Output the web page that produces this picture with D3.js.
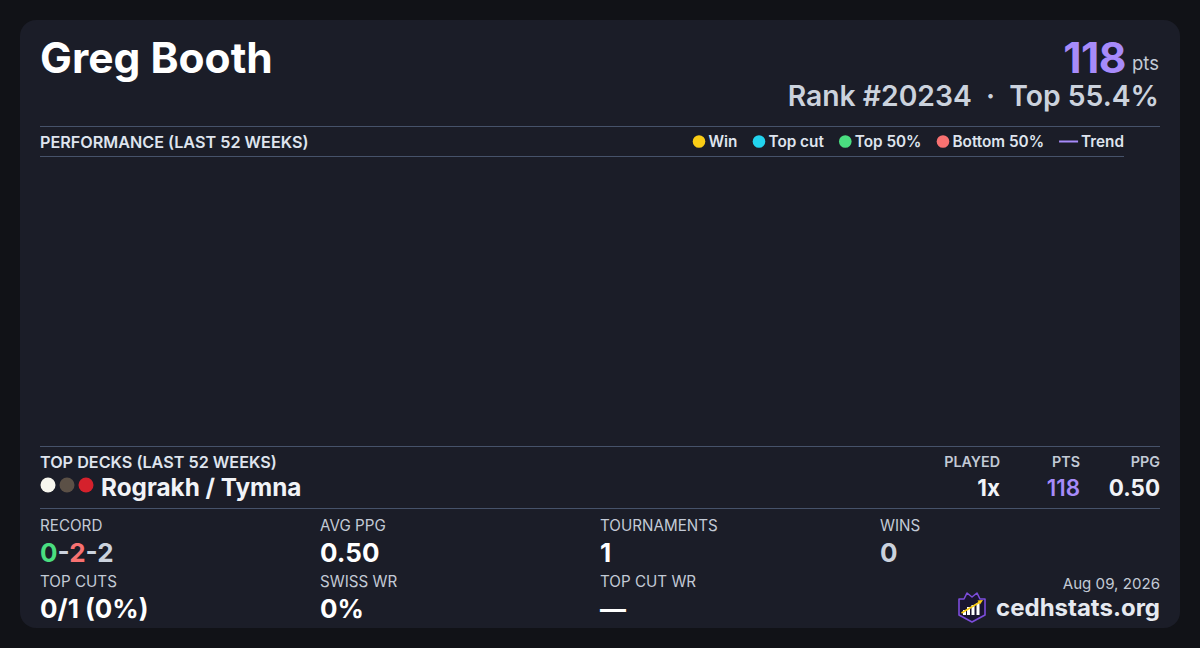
<!DOCTYPE html>
<html>
<head>
<meta charset="utf-8">
<script src="https://cdn.jsdelivr.net/npm/d3@7"></script>
<style>
  html, body { margin: 0; padding: 0; background: #111217; }
  svg { display: block; font-family: Inter, "Noto Sans", sans-serif; }
</style>
</head>
<body>
<svg id="card" width="1200" height="648"></svg>
<script>
// player header
var playerName = "Greg Booth";
var points = 118;
var rankLabel = "Rank #20234";
var topLabel = "Top 55.4%";

// performance chart (no events in the last 52 weeks)
var weekIndex = [];
var weekPoints = [];
var weekResult = [];
var legendLabels = ["Win", "Top cut", "Top 50%", "Bottom 50%", "Trend"];
var legendColors = ["#facc15", "#22d3ee", "#4ade80", "#f87171", "#a78bfa"];

// top decks
var deckNames = ["Rograkh / Tymna"];
var deckColors = [["#f7f6ee", "#5b5046", "#d5212c"]];
var deckPlayed = ["1x"];
var deckPts = [118];
var deckPpg = ["0.50"];

// stat grid
var statLabels = ["RECORD", "AVG PPG", "TOURNAMENTS", "WINS", "TOP CUTS", "SWISS WR", "TOP CUT WR"];
var statValues = [null, "0.50", "1", "0", "0/1 (0%)", "0%", "\u2014"];
var recordParts = ["0", "-", "2", "-", "2"];
var recordColors = ["#4ade80", "#cbd2dd", "#f87171", "#cbd2dd", "#cbd2dd"];
var dateLabel = "Aug 09, 2026";
var siteLabel = "cedhstats.org";

var svg = d3.select("#card");
var rule = "#46526a";

svg.append("rect")
  .attr("x", 20).attr("y", 20).attr("width", 1160).attr("height", 608)
  .attr("rx", 16).attr("fill", "#1b1d28");

// header
svg.append("text").attr("x", 40).attr("y", 73)
  .attr("font-size", 42.5).attr("font-weight", 700).attr("fill", "#ffffff")
  .text(playerName);

svg.append("text").attr("x", 1159).attr("y", 70).attr("text-anchor", "end")
  .attr("font-size", 18.5).attr("fill", "#c3cad6").text("pts");
svg.append("text").attr("x", 1126).attr("y", 73).attr("text-anchor", "end")
  .attr("font-size", 42.5).attr("font-weight", 700).attr("fill", "#a78bfa")
  .attr("letter-spacing", -0.5).text(points);

svg.append("text").attr("x", 1159).attr("y", 106).attr("text-anchor", "end")
  .attr("font-size", 28.3).attr("font-weight", 600).attr("fill", "#cbd2dd")
  .attr("xml:space", "preserve")
  .text(rankLabel + "  \u00b7  " + topLabel);

// performance section
svg.append("line").attr("x1", 40).attr("x2", 1160).attr("y1", 126.5).attr("y2", 126.5).attr("stroke", rule);
svg.append("line").attr("x1", 40).attr("x2", 1124).attr("y1", 156.5).attr("y2", 156.5).attr("stroke", rule);
svg.append("text").attr("x", 40).attr("y", 148)
  .attr("font-size", 16.2).attr("font-weight", 600).attr("fill", "#dfe4ee")
  .text("PERFORMANCE (LAST 52 WEEKS)");

// legend, laid out right to left so it ends at x=1124
var legend = svg.append("g").attr("font-size", 15.3).attr("font-weight", 600).attr("fill", "#dfe4ee");
var lx = 1124;
for (var i = legendLabels.length - 1; i >= 0; i--) {
  var t = legend.append("text").attr("y", 147).attr("text-anchor", "end").attr("x", lx).text(legendLabels[i]);
  var w = t.node().getComputedTextLength();
  var sx = lx - w - 3;
  if (legendLabels[i] === "Trend") {
    legend.append("line").attr("x1", sx - 19).attr("x2", sx).attr("y1", 141.5).attr("y2", 141.5)
      .attr("stroke", legendColors[i]).attr("stroke-width", 2);
    lx = sx - 19 - 15;
  } else {
    legend.append("circle").attr("cx", sx - 6.5).attr("cy", 141.5).attr("r", 6.3).attr("fill", legendColors[i]);
    lx = sx - 13 - 15;
  }
}

// chart area (empty: nothing played in the window)
var x = d3.scaleLinear().domain([0, 51]).range([50, 1114]);
var y = d3.scaleLinear().domain([0, d3.max(weekPoints) || 1]).range([436, 166]);
var plot = svg.append("g");
plot.selectAll("circle").data(weekIndex).enter().append("circle")
  .attr("cx", function (d) { return x(d); })
  .attr("cy", function (d, i) { return y(weekPoints[i]); })
  .attr("r", 5)
  .attr("fill", function (d, i) { return legendColors[weekResult[i]]; });

// top decks
svg.append("line").attr("x1", 40).attr("x2", 1160).attr("y1", 446.5).attr("y2", 446.5).attr("stroke", rule);
svg.append("line").attr("x1", 40).attr("x2", 1160).attr("y1", 508.5).attr("y2", 508.5).attr("stroke", rule);
svg.append("text").attr("x", 40).attr("y", 468)
  .attr("font-size", 16.2).attr("font-weight", 600).attr("fill", "#dfe4ee")
  .text("TOP DECKS (LAST 52 WEEKS)");

var colHeads = ["PLAYED", "PTS", "PPG"];
var colX = [1000, 1080, 1160];
colHeads.forEach(function (h, i) {
  svg.append("text").attr("x", colX[i]).attr("y", 467).attr("text-anchor", "end")
    .attr("font-size", 14.3).attr("font-weight", 600).attr("fill", "#c3cad6").text(h);
});

deckNames.forEach(function (name, r) {
  var cy = 485 + r * 40;
  deckColors[r].forEach(function (c, k) {
    svg.append("circle").attr("cx", 48 + k * 19).attr("cy", cy).attr("r", 7.5).attr("fill", c);
  });
  svg.append("text").attr("x", 101).attr("y", cy + 11)
    .attr("font-size", 24.3).attr("font-weight", 700).attr("fill", "#f1f3f7").text(name);
  var vals = [deckPlayed[r], deckPts[r], deckPpg[r]];
  var cols = ["#f1f3f7", "#a78bfa", "#f1f3f7"];
  vals.forEach(function (v, i) {
    svg.append("text").attr("x", colX[i]).attr("y", cy + 11).attr("text-anchor", "end")
      .attr("font-size", 22.4).attr("font-weight", i === 1 ? 600 : 700).attr("fill", cols[i]).text(v);
  });
});

// stats grid
var gridX = [40, 320, 600, 880];
statLabels.forEach(function (lab, i) {
  var gx = gridX[i % 4];
  var gy = i < 4 ? 531 : 587;
  svg.append("text").attr("x", gx).attr("y", gy)
    .attr("font-size", 15.2).attr("fill", "#c3cad6").text(lab);
  if (statValues[i] === null) {
    var rt = svg.append("text").attr("x", gx).attr("y", gy + 31)
      .attr("font-size", 26).attr("font-weight", 700);
    recordParts.forEach(function (p, k) {
      rt.append("tspan").attr("fill", recordColors[k]).text(p);
    });
  } else {
    svg.append("text").attr("x", gx).attr("y", gy + 31)
      .attr("font-size", 26).attr("font-weight", 700)
      .attr("fill", lab === "WINS" ? "#cbd2dd" : "#ffffff")
      .text(statValues[i]);
  }
});

// footer
svg.append("text").attr("x", 1160).attr("y", 589).attr("text-anchor", "end")
  .attr("font-size", 15.1).attr("fill", "#c3cad6").text(dateLabel);
svg.append("text").attr("x", 1160).attr("y", 616).attr("text-anchor", "end")
  .attr("font-size", 24).attr("font-weight", 700).attr("fill", "#e6e9f0").text(siteLabel);

// logo: shield with crown, bars and arrow
var logo = svg.append("g").attr("transform", "translate(958,591)");
logo.append("path")
  .attr("d", "M1,8 L6,8 L9,2 L14,6 L19,2 L22,8 L27,8 L27,24 L14,31 L1,24 Z")
  .attr("fill", "#1a1530").attr("stroke", "#7c4ddb").attr("stroke-width", 1.6)
  .attr("stroke-linejoin", "round");
[[5, 19, 5], [9, 16, 8], [13.5, 14, 10], [18.5, 12, 12]].forEach(function (b) {
  logo.append("rect").attr("x", b[0]).attr("y", b[1]).attr("width", 3).attr("height", b[2]).attr("fill", "#ffffff");
});
logo.append("line").attr("x1", 3.5).attr("y1", 22).attr("x2", 22).attr("y2", 11)
  .attr("stroke", "#facc15").attr("stroke-width", 1.6);
logo.append("path").attr("d", "M25,9 L19.5,9.5 L22,13.5 Z").attr("fill", "#facc15");
</script>
</body>
</html>
